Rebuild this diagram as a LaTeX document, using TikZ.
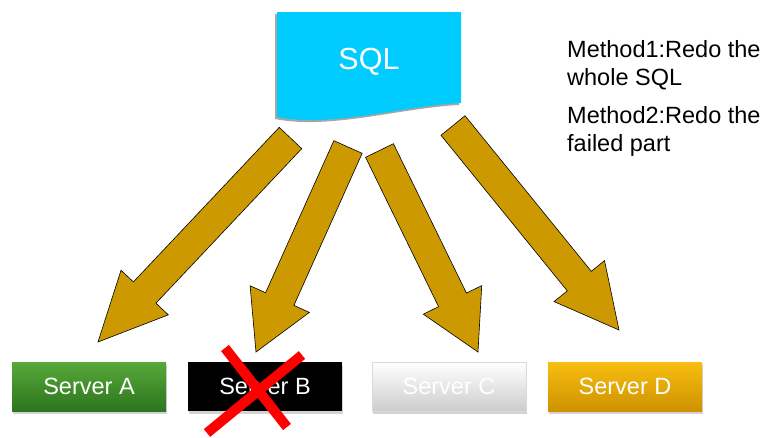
\documentclass[tikz,border=0pt]{standalone}
\usepackage{fontspec}
\setmainfont{Liberation Sans}
\usetikzlibrary{calc,shadows}
\definecolor{arrowgold}{RGB}{204,153,0}
\definecolor{sqlcyan}{RGB}{0,204,255}
\definecolor{greenT}{RGB}{88,168,58}
\definecolor{greenB}{RGB}{44,118,30}
\definecolor{orangeT}{RGB}{248,190,16}
\definecolor{orangeB}{RGB}{206,146,0}
\definecolor{greyT}{RGB}{255,255,255}
\definecolor{greyB}{RGB}{205,205,205}
\newcommand{\blockarrow}[3]{%
  \coordinate (H) at ($(#2)!#3!(#1)$);
  \filldraw[arrowstyle]
    ($(#1)!15.5pt!90:(#2)$) -- ($(H)!15.5pt!90:(#2)$) -- ($(H)!32.5pt!90:(#2)$) --
    (#2) -- ($(H)!32.5pt!-90:(#2)$) -- ($(H)!15.5pt!-90:(#2)$) --
    ($(#1)!15.5pt!-90:(#2)$) -- cycle;}
\begin{document}
\begin{tikzpicture}[x=1pt,y=-1pt,
  arrowstyle/.style={fill=arrowgold,draw=black,line width=0.6pt,line join=miter},
  server/.style={rectangle,minimum width=154pt,minimum height=49pt,inner sep=0pt,
    font=\fontsize{23.5}{26}\selectfont,text=white,
    drop shadow={shadow xshift=1pt,shadow yshift=-3pt,opacity=0.35}},
  method/.style={anchor=base west,inner sep=0pt,font=\fontsize{23.5}{28}\selectfont,text=black}]
\useasboundingbox (0,0) rectangle (769,437);
% SQL document shape
\fill[black!35] (275,14) -- (459,14) -- (459,105) .. controls (400,108) and (330,130) .. (275,119) -- cycle;
\fill[sqlcyan] (277,12) -- (461,12) -- (461,103) .. controls (402,106) and (332,128) .. (277,117) -- cycle;
\node[font=\fontsize{30.5}{34}\selectfont,text=white,anchor=base,inner sep=0pt] (sql) at (369,69) {SQL};
% Methods text
\node[method] (m1a) at (567,57) {Method1:Redo the};
\node[method] (m1b) at (567,85) {whole SQL};
\node[method] (m2a) at (567,123) {Method2:Redo the};
\node[method] (m2b) at (567,151) {failed part};
% arrows
\coordinate (t1) at (290.5,138); \coordinate (p1) at (98,342);
\coordinate (t2) at (348,147);   \coordinate (p2) at (256,352);
\coordinate (t3) at (379.5,150.5); \coordinate (p3) at (478,352);
\coordinate (t4) at (453,125.5); \coordinate (p4) at (619,330);
\blockarrow{t1}{p1}{68pt}
\blockarrow{t2}{p2}{58pt}
\blockarrow{t3}{p3}{58pt}
\blockarrow{t4}{p4}{63pt}
% servers
\node[server,top color=greenT,bottom color=greenB] (A) at (89,386.5) {Server A};
\node[server,fill=black] (B) at (265,386.5) {Server B};
\node[server,top color=greyT,bottom color=greyB,draw=black!15] (C) at (449,386.5) {Server C};
\node[server,top color=orangeT,bottom color=orangeB] (D) at (625,386.5) {Server D};
% red cross
\coordinate (x1) at (225,348); \coordinate (x2) at (287,427);
\coordinate (x3) at (302,355); \coordinate (x4) at (207,433);
\draw[red,line width=10pt] (x1) -- (x2);
\draw[red,line width=10pt] (x3) -- (x4);
\end{tikzpicture}
\end{document}
